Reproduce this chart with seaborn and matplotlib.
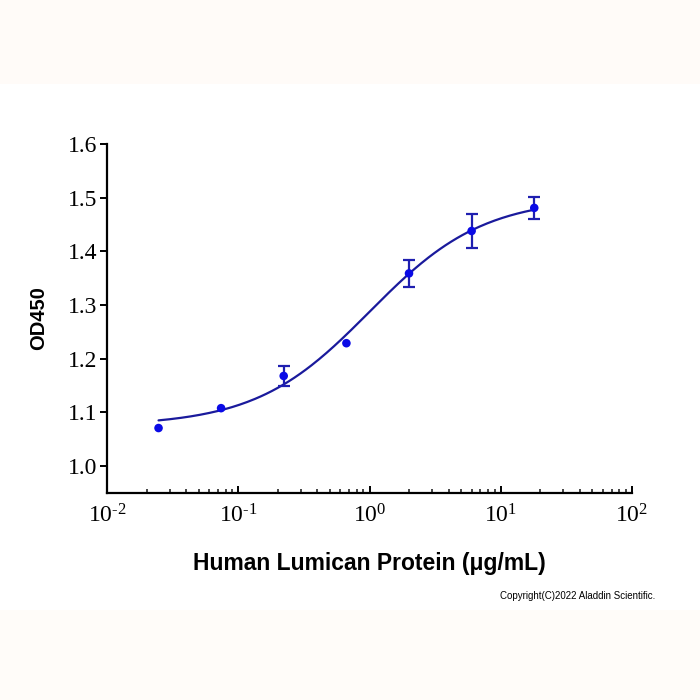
import numpy as np
import pandas as pd
import matplotlib.pyplot as plt
import matplotlib.ticker as mticker
from matplotlib.patches import Rectangle
import seaborn as sns

# measured points (3-fold dilution series)
conc = [0.0247, 0.074, 0.222, 0.667, 2.0, 6.0, 18.0]
od450 = [1.071, 1.108, 1.168, 1.229, 1.359, 1.438, 1.481]
od_err = [0.0, 0.0, 0.018, 0.0, 0.025, 0.031, 0.021]

# 4PL fit parameters
fit_bottom = 1.075
fit_top = 1.50
fit_ec50 = 1.0
fit_hill = 1.0

y_ticks = [1.0, 1.1, 1.2, 1.3, 1.4, 1.5, 1.6]

sns.set_theme(style="ticks")
plt.rcParams['font.family'] = ['Liberation Serif', 'DejaVu Serif']
plt.rcParams['mathtext.fontset'] = 'custom'
plt.rcParams['mathtext.rm'] = 'Liberation Serif'
plt.rcParams['mathtext.it'] = 'Liberation Serif'
plt.rcParams['text.color'] = 'black'
plt.rcParams['axes.labelcolor'] = 'black'

df = pd.DataFrame({"conc": conc, "od": od450, "err": od_err})

xs = np.logspace(np.log10(conc[0]), np.log10(conc[-1]), 200)
r = (xs / fit_ec50) ** fit_hill
curve = pd.DataFrame({"conc": xs, "od": fit_bottom + (fit_top - fit_bottom) * r / (1 + r)})

fig = plt.figure(figsize=(7, 7), dpi=100)
fig.patch.set_facecolor("white")
fig.patches.append(Rectangle((0, 1 - 84 / 700), 1, 84 / 700, transform=fig.transFigure,
                             facecolor="#fffbf8", edgecolor="none", zorder=-10))
fig.patches.append(Rectangle((0, 0), 1, 90 / 700, transform=fig.transFigure,
                             facecolor="#fffcf9", edgecolor="none", zorder=-10))

ax = fig.add_axes([107 / 700, 1 - 493 / 700, 525 / 700, 349 / 700])
ax.set_facecolor("none")

sns.lineplot(data=curve, x="conc", y="od", ax=ax, color="#1a1a9c", linewidth=1.6)
has_err = df[df["err"] > 0]
ax.errorbar(has_err["conc"], has_err["od"], yerr=has_err["err"], fmt="none",
            ecolor="#1f1fb0", elinewidth=1.6, capsize=4, capthick=1.6)
sns.scatterplot(data=df, x="conc", y="od", ax=ax, color="#0a0ae6", s=38,
                edgecolor="none", zorder=5)

ax.set_xscale("log")
ax.set_xlim(1e-2, 1e2)
ax.set_ylim(0.95, 1.6)
ax.set_yticks(y_ticks)
ax.yaxis.set_major_formatter(mticker.FormatStrFormatter("%.1f"))
ax.xaxis.set_major_locator(mticker.LogLocator(base=10, numticks=10))
ax.xaxis.set_major_formatter(mticker.FuncFormatter(
    lambda v, pos: r"$10^{\text{%d}}$" % round(np.log10(v))))
ax.xaxis.set_minor_locator(mticker.LogLocator(base=10, subs=np.arange(2, 10), numticks=20))
ax.xaxis.set_minor_formatter(mticker.NullFormatter())

sns.despine(ax=ax)
for s in ["left", "bottom"]:
    ax.spines[s].set_linewidth(1.6)
    ax.spines[s].set_color("black")

ax.tick_params(axis="y", direction="out", length=5, width=1.4, labelsize=17, pad=2, colors="black")
ax.tick_params(axis="x", which="major", direction="in", length=5, width=1.4,
               labelsize=17, pad=8, colors="black")
ax.tick_params(axis="x", which="minor", direction="in", length=3, width=1.2)

ax.set_xlabel("Human Lumican Protein (μg/mL)", family=["Liberation Sans", "DejaVu Sans"],
              fontsize=16.5, fontweight="bold", labelpad=18)
ax.set_ylabel("OD450", family=["Liberation Sans", "DejaVu Sans"],
              fontsize=14.5, fontweight="bold", labelpad=14)

fig.text(655 / 700, 1 - 596 / 700, "Copyright(C)2022 Aladdin Scientific.",
         family=["Liberation Sans", "DejaVu Sans"], fontsize=7, ha="right", va="center")

fig.savefig("out.png", dpi=100)
